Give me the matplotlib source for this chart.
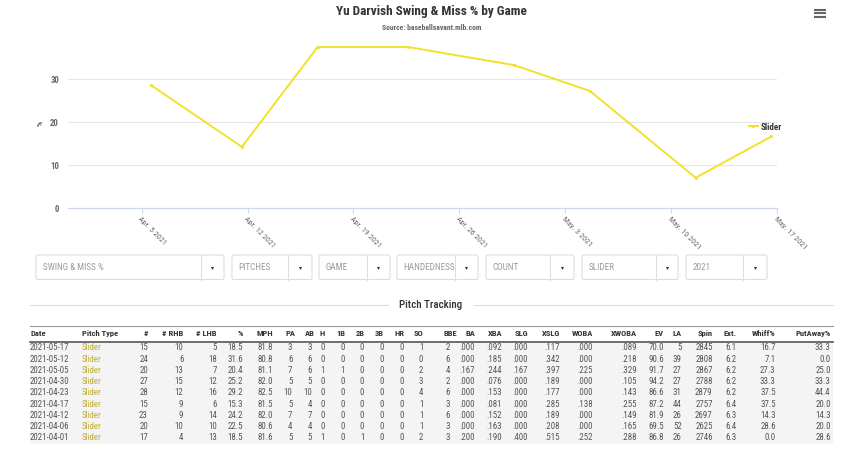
import matplotlib
matplotlib.use('Agg')
import matplotlib.pyplot as plt
import matplotlib.dates as mdates
from matplotlib import font_manager as fm
from matplotlib.patches import FancyBboxPatch, Rectangle
import numpy as np

# ---------------- fonts ----------------
_names = {f.name for f in fm.fontManager.ttflist}
def pick(*cands):
    for c in cands:
        if c in _names:
            return c
    return 'DejaVu Sans'
COND = pick('Roboto Condensed', 'Liberation Sans Narrow', 'Open Sans Condensed', 'Liberation Sans')
plt.rcParams['font.family'] = [COND, 'DejaVu Sans']

# ---------------- data ----------------
title = 'Yu Darvish Swing & Miss % by Game'
subtitle = 'Source: baseballsavant.mlb.com'
series_name = 'Slider'

chart_dates = ['2021-04-06', '2021-04-12', '2021-04-17', '2021-04-23',
               '2021-04-30', '2021-05-05', '2021-05-12', '2021-05-17']
chart_values = [28.6, 14.3, 37.5, 37.5, 33.3, 27.3, 7.1, 16.7]

tick_dates = ['2021-04-05', '2021-04-12', '2021-04-19', '2021-04-26',
              '2021-05-03', '2021-05-10', '2021-05-17']
tick_labels = ['Apr. 5 2021', 'Apr. 12 2021', 'Apr. 19 2021', 'Apr. 26 2021',
               'May. 3 2021', 'May. 10 2021', 'May. 17 2021']
y_ticks = [0, 10, 20, 30]

dropdown_labels = ['SWING & MISS %', 'PITCHES', 'GAME', 'HANDEDNESS', 'COUNT', 'SLIDER', '2021']
section_title = 'Pitch Tracking'

game_dates = ['2021-05-17', '2021-05-12', '2021-05-05', '2021-04-30', '2021-04-23',
              '2021-04-17', '2021-04-12', '2021-04-06', '2021-04-01']
pitch_type = ['Slider'] * 9
num = [15, 24, 20, 27, 28, 15, 23, 20, 17]
rhb = [10, 6, 13, 15, 12, 9, 9, 10, 4]
lhb = [5, 18, 7, 12, 16, 6, 14, 10, 13]
pct = [18.5, 31.6, 20.4, 25.2, 29.2, 15.3, 24.2, 22.5, 18.5]
mph = [81.8, 80.8, 81.1, 82.0, 82.5, 81.5, 82.0, 80.6, 81.6]
pa = [3, 6, 7, 5, 10, 5, 7, 4, 5]
ab = [3, 6, 6, 5, 10, 4, 7, 4, 5]
hits = [0, 0, 1, 0, 0, 0, 0, 0, 1]
singles = [0, 0, 1, 0, 0, 0, 0, 0, 0]
doubles = [0, 0, 0, 0, 0, 0, 0, 0, 1]
triples = [0, 0, 0, 0, 0, 0, 0, 0, 0]
homers = [0, 0, 0, 0, 0, 0, 0, 0, 0]
so = [1, 0, 2, 3, 4, 1, 1, 1, 2]
bbe = [2, 6, 4, 2, 6, 3, 6, 3, 3]
ba = [.000, .000, .167, .000, .000, .000, .000, .000, .200]
xba = [.092, .185, .244, .076, .153, .081, .152, .163, .190]
slg = [.000, .000, .167, .000, .000, .000, .000, .000, .400]
xslg = [.117, .342, .397, .189, .177, .285, .189, .208, .515]
woba = [.000, .000, .225, .000, .000, .138, .000, .000, .252]
xwoba = [.089, .218, .329, .105, .143, .255, .149, .165, .288]
ev = [70.0, 90.6, 91.7, 94.2, 86.6, 87.2, 81.9, 69.5, 86.8]
la = [5, 39, 27, 27, 31, 44, 26, 52, 26]
spin = [2845, 2808, 2867, 2788, 2879, 2757, 2697, 2625, 2746]
ext = [6.1, 6.2, 6.2, 6.2, 6.2, 6.4, 6.3, 6.4, 6.3]
whiff = [16.7, 7.1, 27.3, 33.3, 37.5, 37.5, 14.3, 28.6, 0.0]
putaway = [33.3, 0.0, 25.0, 33.3, 44.4, 20.0, 14.3, 20.0, 28.6]

# ---------------- helpers ----------------
def f0(v): return '%d' % v
def f1(v): return '%.1f' % v
def f3(v): return ('%.3f' % v).lstrip('0')

W, H = 850, 449
fig = plt.figure(figsize=(W / 100, H / 100), dpi=100)
fig.patch.set_facecolor('white')

# overlay in pixel coordinates
ov = fig.add_axes([0, 0, 1, 1])
ov.set_xlim(0, W)
ov.set_ylim(H, 0)
ov.axis('off')

# ---------------- chart ----------------
px_per_unit = 4.3
y_top = 38
ax_left, ax_right, ax_bottom_px = 68, 777, 208.3
ax = fig.add_axes([ax_left / W, 1 - ax_bottom_px / H, (ax_right - ax_left) / W,
                   y_top * px_per_unit / H])
ax.set_facecolor('none')

cd = mdates.date2num(np.array(chart_dates, dtype='datetime64[D]'))
td = mdates.date2num(np.array(tick_dates, dtype='datetime64[D]')) + 0.375
px_per_day = (ax_right - 141.7) / (td[-1] - td[0])

ax.plot(cd, chart_values, color='#f0e22a', lw=1.4, marker='o', markersize=2.2,
        markeredgewidth=0, solid_joinstyle='round', label=series_name, zorder=3)
ax.set_xlim(td[0] - (141.7 - ax_left) / px_per_day, td[-1])
ax.set_ylim(0, y_top)
ax.set_xticks(td)
ax.set_xticklabels(tick_labels, rotation=-45, ha='left', va='top',
                   rotation_mode='anchor', fontsize=5.8, color='#666666')
ax.set_yticks(y_ticks)
ax.set_yticklabels([str(v) for v in y_ticks], fontsize=6.3, color='#666666', fontweight='bold')
ax.tick_params(axis='x', length=3.6, width=0.8, color='#ccd6eb', pad=2)
ax.tick_params(axis='y', length=0, pad=6.5)
for s in ['top', 'right', 'left']:
    ax.spines[s].set_visible(False)
ax.spines['bottom'].set_color('#ccd6eb')
ax.spines['bottom'].set_linewidth(0.8)
ax.grid(axis='y', color='#e6e6e6', lw=0.8)
ax.set_axisbelow(True)
ax.set_ylabel('%', fontsize=6, color='#666666', fontweight='bold')
ax.yaxis.set_label_coords((44 - ax_left) / (ax_right - ax_left), 0.52)

leg = fig.legend(loc='center left', bbox_to_anchor=(744 / W, 1 - 127 / H), frameon=False,
                 handlelength=1.0, handletextpad=0.4, borderpad=0,
                 prop={'size': 6.5, 'weight': 'bold'})
for t in leg.get_texts():
    t.set_color('#333333')

fig.text(431 / W, 1 - 11.5 / H, title, ha='center', va='center', fontsize=9.5,
         fontweight='bold', color='#333333')
fig.text(432 / W, 1 - 27 / H, subtitle, ha='center', va='center', fontsize=5.5,
         fontweight='bold', color='#666666')

# hamburger menu
for yy in (9.8, 13.2, 16.6):
    ov.plot([814, 826], [yy, yy], color='#666666', lw=1.5, solid_capstyle='butt')

# ---------------- dropdowns ----------------
boxes = [(36, 224, 200.7), (232, 312, 288), (319, 390, 367), (397, 478, 455),
         (486, 574, 550), (582, 678, 656), (686, 767, 743)]
by0, by1 = 255, 279.5
for lab, (x0, x1, xd) in zip(dropdown_labels, boxes):
    ov.add_patch(FancyBboxPatch((x0, by0), x1 - x0, by1 - by0,
                                boxstyle='round,pad=0,rounding_size=2',
                                fc='white', ec='#dddddd', lw=0.8))
    ov.plot([xd, xd], [by0, by1], color='#dddddd', lw=0.8)
    t = ov.text(x0 + 6.7, (by0 + by1) / 2, lab, ha='left', va='center',
                fontsize=6.6, color='#9a9a9a')
    t.set_clip_path(Rectangle((x0, by0), xd - x0, by1 - by0, transform=ov.transData))
    ov.plot([(xd + x1) / 2], [(by0 + by1) / 2 + 0.3], marker='v', markersize=2.2,
            color='#333333', markeredgewidth=0)

# ---------------- section title ----------------
ov.text(430.5, 305, section_title, ha='center', va='center', fontsize=7.8,
        color='#333333', fontweight='medium')
ov.plot([30, 388], [305, 305], color='#dddddd', lw=0.8)
ov.plot([474, 833], [305, 305], color='#dddddd', lw=0.8)

# ---------------- table ----------------
tx0, tx1 = 30, 833
ov.plot([tx0, tx1], [325.5, 325.5], color='#999999', lw=0.8)
ov.add_patch(Rectangle((tx0, 342.6), tx1 - tx0, 101, fc='#f4f4f4', ec='none'))
ov.plot([tx0, tx1], [342.2, 342.2], color='#555555', lw=1.2)

columns = [
    ('Date', 'left', 31, 30, game_dates, str),
    ('Pitch Type', 'left', 81.7, 81.7, pitch_type, str),
    ('#', 'right', 148, 148, num, f0),
    ('# RHB', 'right', 183.3, 183.3, rhb, f0),
    ('# LHB', 'right', 217, 217, lhb, f0),
    ('%', 'right', 243, 243, pct, f1),
    ('MPH', 'right', 272.7, 272.7, mph, f1),
    ('PA', 'right', 295.7, 292.3, pa, f0),
    ('AB', 'right', 315, 311.7, ab, f0),
    ('H', 'right', 325, 325, hits, f0),
    ('1B', 'right', 345, 345, singles, f0),
    ('2B', 'right', 364.3, 364.3, doubles, f0),
    ('3B', 'right', 384, 384, triples, f0),
    ('HR', 'right', 404.3, 404.3, homers, f0),
    ('SO', 'right', 423.3, 423.3, so, f0),
    ('BBE', 'right', 456.7, 450, bbe, f0),
    ('BA', 'right', 475.3, 475.3, ba, f3),
    ('XBA', 'right', 502, 502, xba, f3),
    ('SLG', 'right', 528.3, 528.3, slg, f3),
    ('XSLG', 'right', 560, 560, xslg, f3),
    ('WOBA', 'right', 593.3, 593.3, woba, f3),
    ('XWOBA', 'right', 637.3, 637.3, xwoba, f3),
    ('EV', 'right', 664, 664, ev, f1),
    ('LA', 'right', 681.7, 681.7, la, f0),
    ('Spin', 'right', 712.7, 712.7, spin, f0),
    ('Ext.', 'right', 737, 737, ext, f1),
    ('Whiff%', 'right', 775.7, 775.7, whiff, f1),
    ('PutAway%', 'right', 830.7, 830.7, putaway, f1),
]
row0, row_h = 347.9, 11.25
for head, align, hx, vx, vals, fmt in columns:
    ov.text(hx, 333.8, head, ha=align, va='center', fontsize=6.1,
            fontweight='bold', color='#333333')
    color = '#bfae3c' if head == 'Pitch Type' else '#555555'
    for i, v in enumerate(vals):
        ov.text(vx, row0 + i * row_h, fmt(v), ha=align, va='center',
                fontsize=6.4, color=color)

fig.savefig('out.png', dpi=100, facecolor='white')
